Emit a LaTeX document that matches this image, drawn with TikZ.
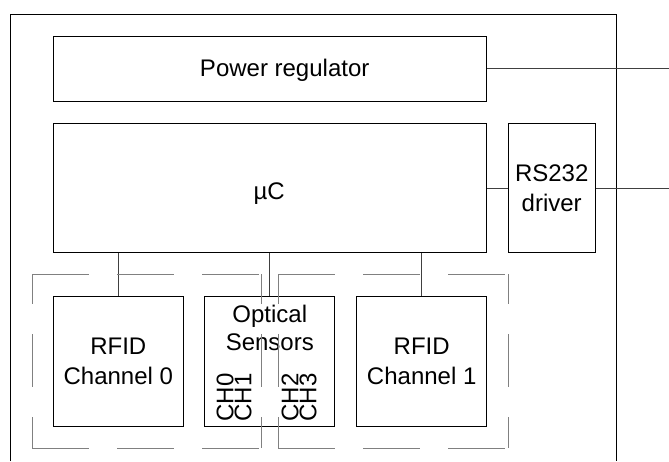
\documentclass[tikz,border=0pt]{standalone}
\usepackage{fontspec}
\setmainfont{Liberation Sans}
\tikzset{
  blk/.style={draw, line width=1pt, minimum width=130pt, minimum height=129.6pt, inner sep=0pt, align=center},
  wire/.style={draw=black!75, line width=1pt},
  grouph/.style={draw=black!50, line width=1.2pt, dash pattern=on 57pt off 28pt},
  groupv/.style={draw=black!50, line width=1.2pt, dash pattern=on 53pt off 30pt, dash phase=23pt},
  chlbl/.style={rotate=90, inner sep=0pt, align=left, font=\fontsize{24}{18}\selectfont},
}
\begin{document}
\begin{tikzpicture}[x=1pt,y=-1pt,font=\fontsize{24}{29.4}\selectfont]
\useasboundingbox (0,0) rectangle (669,461);

\draw[line width=1pt] (10.7,461) |- (616.7,14.3) -- (616.7,461);

\node[blk, minimum width=433pt, minimum height=65pt] (pwr) at (269.8,68.5) {};
\node[anchor=base, inner sep=0pt] (pwrlbl) at (284.7,76) {Power regulator};
\node[blk, minimum width=433pt] (uc) at (269.8,188.1) {};
\node[anchor=base, inner sep=0pt] (uclbl) at (269.2,199.3) {µC};
\node[blk, minimum width=86.7pt] (rs) at (551.7,188.1) {RS232\\driver};

\node[blk] (rfid0) at (118.3,361.5) {RFID\\Channel 0};
\node[blk] (opt) at (269.8,361.5) {};
\node[blk] (rfid1) at (421.7,361.5) {RFID\\Channel 1};

\node[anchor=north, inner sep=0pt, align=center, font=\fontsize{24}{28.4}\selectfont] (optlbl) at (269.8,305) {Optical\\Sensors};
\node[chlbl] (ch01) at (234.2,397.5) {CH0\\CH1};
\node[chlbl] (ch23) at (299.2,397.5) {CH2\\CH3};

\draw[wire] (uc.south -| rfid0.north) -- (rfid0.north);
\draw[wire] (uc.south) -- (opt.north);
\draw[wire] (uc.south -| rfid1.north) -- (rfid1.north);
\draw[wire] (uc.east) -- (rs.west);

\coordinate (pwrout) at (669,68.5);
\coordinate (rsout) at (669,188.1);
\draw[wire] (pwr.east) -- (pwrout);
\draw[wire] (rs.east) -- (rsout);

\draw[grouph] (32.3,274.3) -- (261.7,274.3);
\draw[grouph] (32.3,448.3) -- (261.7,448.3);
\draw[groupv] (32.3,274.3) -- (32.3,448.3);
\draw[groupv] (261.7,274.3) -- (261.7,448.3);

\begin{scope}[xshift=246pt]
\draw[grouph] (32.3,274.3) -- (262.3,274.3);
\draw[grouph] (32.3,448.3) -- (262.3,448.3);
\draw[groupv] (32.3,274.3) -- (32.3,448.3);
\draw[groupv] (262.3,274.3) -- (262.3,448.3);
\end{scope}

\end{tikzpicture}
\end{document}
